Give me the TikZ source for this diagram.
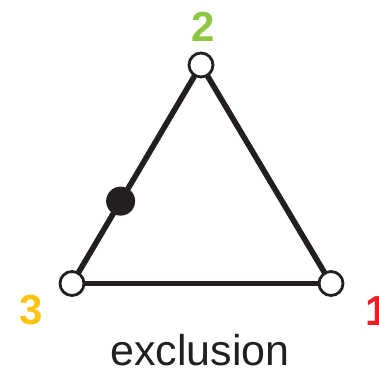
\documentclass[tikz,border=0pt]{standalone}
\usepackage{fontspec}
\setmainfont{Liberation Sans}
\usepackage{tikz}
\usetikzlibrary{calc}
\definecolor{inkblack}{HTML}{231F20}
\definecolor{labgreen}{HTML}{8DC63F}
\definecolor{labyellow}{HTML}{FFC20E}
\definecolor{labred}{HTML}{ED1C24}
\tikzset{
  every picture/.style={
    line join=round,
    line cap=round,
  },
}

\begin{document}
\begin{tikzpicture}[x=1pt, y=-1pt,
  vertex/.style={circle, draw=inkblack, fill=white, line width=2.8pt, inner sep=0pt, minimum size=24pt},
  dotfill/.style={circle, fill=inkblack, inner sep=0pt, minimum size=29pt},
  edge/.style={draw=inkblack, line width=5.6pt},
  digit/.style={font=\fontsize{42}{42}\selectfont\bfseries}]
\useasboundingbox (0,0) rectangle (379,369);
% Corners of the triangle
\node[vertex] (v2) at (201,65) {};
\node[vertex] (v3) at (72,283.5) {};
\node[vertex] (v1) at (331,283.5) {};

% Sides
\draw[edge] (v3) -- (v2);
\draw[edge] (v2) -- (v1);
\draw[edge] (v1) -- (v3);

% Point on the side 3--2
\node[dotfill] (pt) at ($(v3)!0.377!(v2)$) {};

% Corner labels
\node[digit, labgreen] (l2) at (203,27) {2};
\node[digit, labyellow] (l3) at (31,310) {3};
\node[digit, labred] (l1) at (377,311) {1};

% Caption
\node[anchor=base, inkblack, font=\fontsize{43}{43}\selectfont] (cap) at (200,365) {exclusion};
\end{tikzpicture}
\end{document}
